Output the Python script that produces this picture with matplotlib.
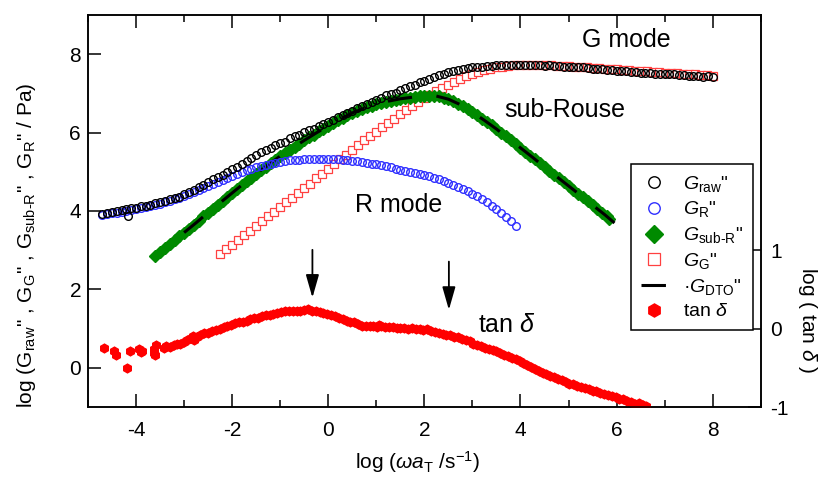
import numpy as np
import matplotlib
matplotlib.use('Agg')
import matplotlib.pyplot as plt
from matplotlib.ticker import MultipleLocator

plt.rcParams['font.family'] = ['Liberation Sans', 'DejaVu Sans']
plt.rcParams['mathtext.fontset'] = 'custom'
plt.rcParams['mathtext.rm'] = 'Liberation Sans'
plt.rcParams['mathtext.it'] = 'Liberation Sans:italic'
plt.rcParams['mathtext.bf'] = 'Liberation Sans:bold'
plt.rcParams['axes.unicode_minus'] = False

# ---- data (log values) ----
raw_x = [-4.7, -4.6, -4.5, -4.4, -4.3, -4.2, -4.17, -4.1, -4.0, -3.9, -3.8, -3.7, -3.6, -3.5, -3.4, -3.3,
         -3.2, -3.1, -3.0, -2.9, -2.8, -2.7, -2.6, -2.5, -2.4, -2.3, -2.2, -2.1, -2.0, -1.9, -1.8, -1.7,
         -1.6, -1.5, -1.4, -1.3, -1.2, -1.1, -1.0, -0.9, -0.8, -0.7, -0.6, -0.5, -0.4, -0.3, -0.2, -0.1,
         0.0, 0.1, 0.2, 0.3, 0.4, 0.5, 0.6, 0.7, 0.8, 0.9, 1.0, 1.1, 1.2, 1.3, 1.4, 1.5, 1.6, 1.7,
         1.8, 1.9, 2.0, 2.1, 2.2, 2.3, 2.4, 2.5, 2.6, 2.7, 2.8, 2.9, 3.0, 3.1, 3.2, 3.3, 3.4, 3.5,
         3.6, 3.7, 3.8, 3.9, 4.0, 4.1, 4.2, 4.3, 4.4, 4.5, 4.6, 4.7, 4.8, 4.9, 5.0, 5.1, 5.2, 5.3,
         5.4, 5.5, 5.6, 5.7, 5.8, 5.9, 6.0, 6.1, 6.2, 6.3, 6.4, 6.5, 6.6, 6.7, 6.8, 6.9, 7.0, 7.1,
         7.2, 7.3, 7.4, 7.5, 7.6, 7.7, 7.8, 7.9, 8.0]
raw_y = [3.93, 3.96, 3.97, 4.00, 4.02, 4.04, 3.88, 4.07, 4.08, 4.12, 4.14, 4.16, 4.21, 4.23, 4.25, 4.30,
         4.33, 4.36, 4.43, 4.48, 4.53, 4.61, 4.67, 4.75, 4.82, 4.87, 4.92, 4.99, 5.06, 5.12, 5.19, 5.28,
         5.36, 5.42, 5.50, 5.55, 5.60, 5.68, 5.73, 5.77, 5.85, 5.90, 5.94, 6.01, 6.06, 6.10, 6.17, 6.23,
         6.28, 6.33, 6.40, 6.45, 6.49, 6.56, 6.63, 6.67, 6.72, 6.79, 6.84, 6.88, 6.95, 6.99, 7.02, 7.08,
         7.14, 7.18, 7.22, 7.28, 7.32, 7.37, 7.42, 7.46, 7.49, 7.54, 7.57, 7.60, 7.63, 7.64, 7.66, 7.67,
         7.68, 7.70, 7.69, 7.71, 7.71, 7.72, 7.71, 7.73, 7.72, 7.72, 7.71, 7.72, 7.71, 7.70, 7.71, 7.69,
         7.70, 7.68, 7.68, 7.67, 7.66, 7.66, 7.64, 7.63, 7.63, 7.61, 7.60, 7.60, 7.58, 7.57, 7.56, 7.55,
         7.55, 7.53, 7.52, 7.52, 7.50, 7.50, 7.49, 7.48, 7.48, 7.46, 7.46, 7.45, 7.44, 7.44, 7.42, 7.43,
         7.41]

gr_x = [-4.7, -4.6, -4.5, -4.4, -4.3, -4.2, -4.1, -4.0, -3.9, -3.8, -3.7, -3.6, -3.5, -3.4, -3.3, -3.2,
        -3.1, -3.0, -2.9, -2.8, -2.7, -2.6, -2.5, -2.4, -2.3, -2.2, -2.1, -2.0, -1.9, -1.8, -1.7, -1.6,
        -1.5, -1.4, -1.3, -1.2, -1.1, -1.0, -0.9, -0.8, -0.7, -0.6, -0.5, -0.4, -0.3, -0.2, -0.1, 0.0,
        0.1, 0.2, 0.3, 0.4, 0.5, 0.6, 0.7, 0.8, 0.9, 1.0, 1.1, 1.2, 1.3, 1.4, 1.5, 1.6, 1.7, 1.8,
        1.9, 2.0, 2.1, 2.2, 2.3, 2.4, 2.5, 2.6, 2.7, 2.8, 2.9, 3.0, 3.1, 3.2, 3.3, 3.4, 3.5, 3.6,
        3.7, 3.8, 3.9]
gr_y = [3.90, 3.92, 3.94, 3.96, 3.98, 4.00, 4.03, 4.06, 4.08, 4.11, 4.14, 4.16, 4.19, 4.22, 4.26, 4.30,
        4.34, 4.38, 4.43, 4.48, 4.53, 4.58, 4.63, 4.69, 4.74, 4.80, 4.85, 4.90, 4.95, 5.00, 5.04, 5.08,
        5.12, 5.15, 5.18, 5.21, 5.23, 5.25, 5.27, 5.29, 5.30, 5.31, 5.32, 5.32, 5.33, 5.33, 5.33, 5.33,
        5.32, 5.32, 5.31, 5.30, 5.28, 5.27, 5.25, 5.23, 5.21, 5.19, 5.16, 5.14, 5.11, 5.08, 5.05, 5.03,
        5.00, 4.98, 4.95, 4.92, 4.89, 4.85, 4.81, 4.77, 4.72, 4.67, 4.61, 4.55, 4.50, 4.44, 4.37, 4.30,
        4.22, 4.13, 4.04, 3.95, 3.85, 3.74, 3.62]

sub_x = [-3.6, -3.5, -3.4, -3.3, -3.2, -3.1, -3.0, -2.9, -2.8, -2.7, -2.6, -2.5, -2.4, -2.3, -2.2, -2.1,
         -2.0, -1.9, -1.8, -1.7, -1.6, -1.5, -1.4, -1.3, -1.2, -1.1, -1.0, -0.9, -0.8, -0.7, -0.6, -0.5,
         -0.4, -0.3, -0.2, -0.1, 0.0, 0.1, 0.2, 0.3, 0.4, 0.5, 0.6, 0.7, 0.8, 0.9, 1.0, 1.1,
         1.2, 1.3, 1.4, 1.5, 1.6, 1.7, 1.8, 1.9, 2.0, 2.1, 2.2, 2.3, 2.4, 2.5, 2.6, 2.7,
         2.8, 2.9, 3.0, 3.1, 3.2, 3.3, 3.4, 3.5, 3.6, 3.7, 3.8, 3.9, 4.0, 4.1, 4.2, 4.3,
         4.4, 4.5, 4.6, 4.7, 4.8, 4.9, 5.0, 5.1, 5.2, 5.3, 5.4, 5.5, 5.6, 5.7, 5.8, 5.85]
sub_y = [2.85, 2.95, 3.05, 3.15, 3.25, 3.35, 3.45, 3.55, 3.65, 3.75, 3.86, 3.96, 4.06, 4.16, 4.26, 4.36,
         4.46, 4.56, 4.66, 4.76, 4.85, 4.95, 5.04, 5.13, 5.22, 5.31, 5.40, 5.48, 5.56, 5.64, 5.72, 5.80,
         5.88, 5.95, 6.03, 6.10, 6.17, 6.24, 6.31, 6.37, 6.44, 6.50, 6.55, 6.60, 6.64, 6.68, 6.72, 6.75,
         6.78, 6.81, 6.83, 6.86, 6.88, 6.89, 6.91, 6.92, 6.93, 6.93, 6.93, 6.92, 6.89, 6.85, 6.80, 6.74,
         6.68, 6.60, 6.52, 6.44, 6.35, 6.27, 6.18, 6.09, 5.99, 5.90, 5.80, 5.70, 5.61, 5.51, 5.41, 5.32,
         5.22, 5.12, 5.03, 4.93, 4.83, 4.73, 4.64, 4.54, 4.44, 4.35, 4.25, 4.15, 4.05, 3.96, 3.86, 3.80]

gg_x = [-2.25, -2.125, -2.0, -1.875, -1.75, -1.625, -1.5, -1.375, -1.25, -1.125, -1.0, -0.875, -0.75,
        -0.625, -0.5, -0.375, -0.25, -0.125, 0.0, 0.125, 0.25, 0.375, 0.5, 0.625, 0.75, 0.875, 1.0,
        1.125, 1.25, 1.375, 1.5, 1.625, 1.75, 1.875, 2.0, 2.125, 2.25, 2.375, 2.5, 2.625, 2.75, 2.875,
        3.0, 3.125, 3.25, 3.375, 3.5, 3.625, 3.75, 3.875, 4.0, 4.125, 4.25, 4.375, 4.5, 4.625, 4.75,
        4.875, 5.0, 5.125, 5.25, 5.375, 5.5, 5.625, 5.75, 5.875, 6.0, 6.125, 6.25, 6.375, 6.5, 6.625,
        6.75, 6.875, 7.0, 7.125, 7.25, 7.375, 7.5, 7.625, 7.75, 7.875, 8.0]
gg_y = [2.90, 3.02, 3.14, 3.26, 3.38, 3.50, 3.62, 3.74, 3.86, 3.98, 4.10, 4.22, 4.34,
        4.46, 4.58, 4.70, 4.83, 4.95, 5.08, 5.20, 5.32, 5.44, 5.56, 5.68, 5.80, 5.91, 6.02,
        6.13, 6.24, 6.35, 6.46, 6.57, 6.67, 6.77, 6.87, 6.96, 7.05, 7.14, 7.22, 7.30, 7.37, 7.44,
        7.50, 7.55, 7.59, 7.63, 7.66, 7.68, 7.70, 7.71, 7.72, 7.72, 7.72, 7.72, 7.71, 7.71, 7.70,
        7.70, 7.69, 7.68, 7.67, 7.66, 7.65, 7.64, 7.63, 7.62, 7.61, 7.60, 7.59, 7.58, 7.57, 7.56,
        7.55, 7.54, 7.53, 7.52, 7.51, 7.50, 7.49, 7.48, 7.47, 7.46, 7.45]

dto_x = [-3.0, -2.75, -2.5, -2.25, -2.0, -1.75, -1.5, -1.25, -1.0, -0.75, -0.5, -0.25, 0.0, 0.25,
         0.5, 0.75, 1.0, 1.25, 1.5, 1.75, 2.0, 2.25, 2.5, 2.75, 3.0, 3.25, 3.5, 3.75, 4.0, 4.25,
         4.5, 4.75, 5.0, 5.25, 5.5, 5.75, 6.0, 6.25]
dto_y = [3.45, 3.70, 3.96, 4.21, 4.46, 4.71, 4.95, 5.18, 5.40, 5.60, 5.80, 5.99, 6.17, 6.34,
         6.50, 6.62, 6.72, 6.80, 6.86, 6.90, 6.93, 6.93, 6.85, 6.71, 6.52, 6.31, 6.09, 5.85, 5.61, 5.37,
         5.12, 4.88, 4.64, 4.40, 4.15, 3.91, 3.65, 3.37]

tand_x = [-4.67, -4.45, -4.42, -4.18, -4.13, -3.93, -3.90, -3.88, -3.63, -3.62, -3.60, -3.58, -3.42,
          -3.38, -3.30, -3.22, -3.15, -3.08, -3.00, -2.93, -2.86, -2.82, -2.80, -2.74, -2.66, -2.58,
          -2.50, -2.42, -2.34, -2.26, -2.18, -2.10, -2.02, -1.94, -1.86, -1.78, -1.70, -1.62, -1.54,
          -1.46, -1.38, -1.30, -1.22, -1.14, -1.06, -0.98, -0.90, -0.82, -0.74, -0.66, -0.58, -0.50,
          -0.42, -0.34, -0.26, -0.18, -0.10, -0.02, 0.06, 0.14, 0.22, 0.30, 0.38, 0.46, 0.54, 0.62,
          0.70, 0.78, 0.86, 0.94, 1.02, 1.06, 1.10, 1.18, 1.26, 1.34, 1.42, 1.50, 1.58, 1.66, 1.74,
          1.82, 1.90, 1.98, 2.06, 2.14, 2.22, 2.30, 2.38, 2.46, 2.54, 2.62, 2.70, 2.78, 2.86, 2.94,
          3.02, 3.10, 3.18, 3.26, 3.34, 3.42, 3.50, 3.58, 3.66, 3.74, 3.82, 3.90, 3.98, 4.06, 4.14,
          4.22, 4.30, 4.38, 4.46, 4.54, 4.62, 4.70, 4.78, 4.86, 4.94, 5.02, 5.10, 5.18, 5.26, 5.34,
          5.42, 5.50, 5.58, 5.66, 5.74, 5.82, 5.90, 5.98, 6.06, 6.14, 6.22, 6.30, 6.38, 6.46, 6.54,
          6.62]
tand_y = [-0.25, -0.28, -0.33, -0.50, -0.28, -0.26, -0.30, -0.28, -0.26, -0.31, -0.34, -0.21, -0.24,
          -0.22, -0.23, -0.21, -0.20, -0.19, -0.17, -0.15, -0.12, -0.09, -0.14, -0.10, -0.08, -0.06,
          -0.05, -0.03, -0.02, 0.00, 0.02, 0.03, 0.05, 0.07, 0.08, 0.09, 0.10, 0.12, 0.13,
          0.14, 0.16, 0.17, 0.18, 0.19, 0.20, 0.21, 0.22, 0.23, 0.22, 0.23, 0.23, 0.24,
          0.25, 0.23, 0.22, 0.21, 0.20, 0.19, 0.17, 0.16, 0.14, 0.12, 0.10, 0.09, 0.08, 0.06,
          0.04, 0.03, 0.03, 0.03, 0.02, 0.05, 0.03, 0.02, 0.02, 0.02, 0.01, 0.01, 0.01, 0.00, 0.01,
          0.00, -0.01, -0.02, -0.01, -0.03, -0.04, -0.05, -0.07, -0.08, -0.08, -0.10, -0.11, -0.13, -0.15, -0.16,
          -0.19, -0.21, -0.22, -0.24, -0.26, -0.27, -0.29, -0.31, -0.33, -0.35, -0.37, -0.39, -0.41, -0.44, -0.46,
          -0.49, -0.52, -0.54, -0.56, -0.58, -0.60, -0.62, -0.64, -0.66, -0.68, -0.70, -0.71, -0.73, -0.74, -0.76,
          -0.77, -0.79, -0.80, -0.82, -0.83, -0.85, -0.86, -0.87, -0.89, -0.90, -0.92, -0.94, -0.96, -0.95, -0.97,
          -0.98]

# ---- plot ----
fig = plt.figure(figsize=(8.18, 4.79), dpi=100)
ax = fig.add_axes([0.1076, 0.150, 0.8224, 0.819])

green = '#008a00'
ax.plot(gg_x, gg_y, 's', mfc='white', mec='#ff4040', mew=0.9, ms=5.4, zorder=2, label=r'$G_{\rm G}$"')
# green band: thick line through the diamonds
ax.plot(sub_x, sub_y, '-', color=green, lw=5.5, solid_capstyle='butt', zorder=3)
ax.plot(sub_x, sub_y, 'D', color=green, ms=6, mec=green, zorder=3, label=r'$G_{\rm sub\text{-}R}$"')
ax.plot(dto_x, dto_y, '-', color='black', lw=2.2, dashes=(8, 8), zorder=4, label=u'\u00b7$G_{\\rm DTO}$"')
ax.plot(gr_x, gr_y, 'o', mfc='none', mec='#3030ff', mew=1.0, ms=5.5, zorder=5, label=r'$G_{\rm R}$"')
ax.plot(raw_x, raw_y, 'o', mfc='none', mec='black', mew=1.0, ms=5.5, zorder=6, label=r'$G_{\rm raw}$"')

ax.set_xlim(-5, 9)
ax.set_ylim(-1, 9)
ax.xaxis.set_major_locator(MultipleLocator(2))
ax.xaxis.set_minor_locator(MultipleLocator(1))
ax.set_yticks([0, 2, 4, 6, 8])
ax.tick_params(axis='x', which='both', direction='in', top=True, labelsize=15, width=1.1, pad=10)
ax.tick_params(axis='x', which='major', length=9.5)
ax.tick_params(axis='x', which='minor', length=5)
ax.tick_params(axis='y', direction='in', right=False, labelsize=15, length=9.5, width=1.1, pad=5)
for s in ax.spines.values():
    s.set_linewidth(1.1)

ax.set_xlabel(r'log ($\omega a_{\rm T}$ /s$^{-1}$)', fontsize=15)
ax.xaxis.set_label_coords(0.49, -0.108)
ax.set_ylabel(r'log (G$_{\rm raw}$" , G$_{\rm G}$" , G$_{\rm sub\text{-}R}$" , G$_{\rm R}$" / Pa)', fontsize=15)
ax.yaxis.set_label_coords(-0.074, 0.412)

# right axis: tan delta
ax2 = ax.twinx()
ax2.plot(tand_x, tand_y, 'h', color='#ff0000', mec='#ff0000', ms=6.3, label=r'tan $\delta$')
ax2.set_ylim(-1, 4)
ax2.set_yticks([-1, 0, 1])
ax2.tick_params(axis='y', direction='in', labelsize=15, length=9.5, width=1.1, pad=7)
for s in ax2.spines.values():
    s.set_linewidth(1.1)
fig.text(808 / 818, 1 - 320 / 479, r'log ( tan $\delta$ )', rotation=-90, ha='center', va='center', fontsize=15)

# annotations
ax.text(6.2, 8.37, 'G mode', fontsize=18, ha='center', va='center')
ax.text(4.92, 6.57, 'sub-Rouse', fontsize=18, ha='center', va='center')
ax.text(1.47, 4.16, 'R mode', fontsize=18, ha='center', va='center')
ax.text(3.72, 1.10, r'tan $\delta$', fontsize=18, ha='center', va='center')
arrow = dict(arrowstyle='-|>,head_length=0.7,head_width=0.2', color='black', lw=1.3, mutation_scale=20,
             shrinkA=0, shrinkB=0)
ax.annotate('', xy=(-0.33, 1.79), xytext=(-0.33, 3.01), arrowprops=arrow)
ax.annotate('', xy=(2.51, 1.48), xytext=(2.51, 2.71), arrowprops=arrow)

# legend
h, l = ax.get_legend_handles_labels()
h2, l2 = ax2.get_legend_handles_labels()
order = [4, 3, 1, 0, 2]
handles = [h[i] for i in order] + h2
labels = [l[i] for i in order] + l2
leg = ax2.legend(handles, labels, loc='upper left', bbox_to_anchor=(0.807, 0.620), borderaxespad=0,
                 fontsize=14, numpoints=1, handlelength=1.4, handletextpad=0.8, labelspacing=0.3,
                 borderpad=0.5, fancybox=False, framealpha=1, edgecolor='black', markerscale=1.5)
leg.get_frame().set_linewidth(1.1)

fig.savefig('out.png', dpi=100)
